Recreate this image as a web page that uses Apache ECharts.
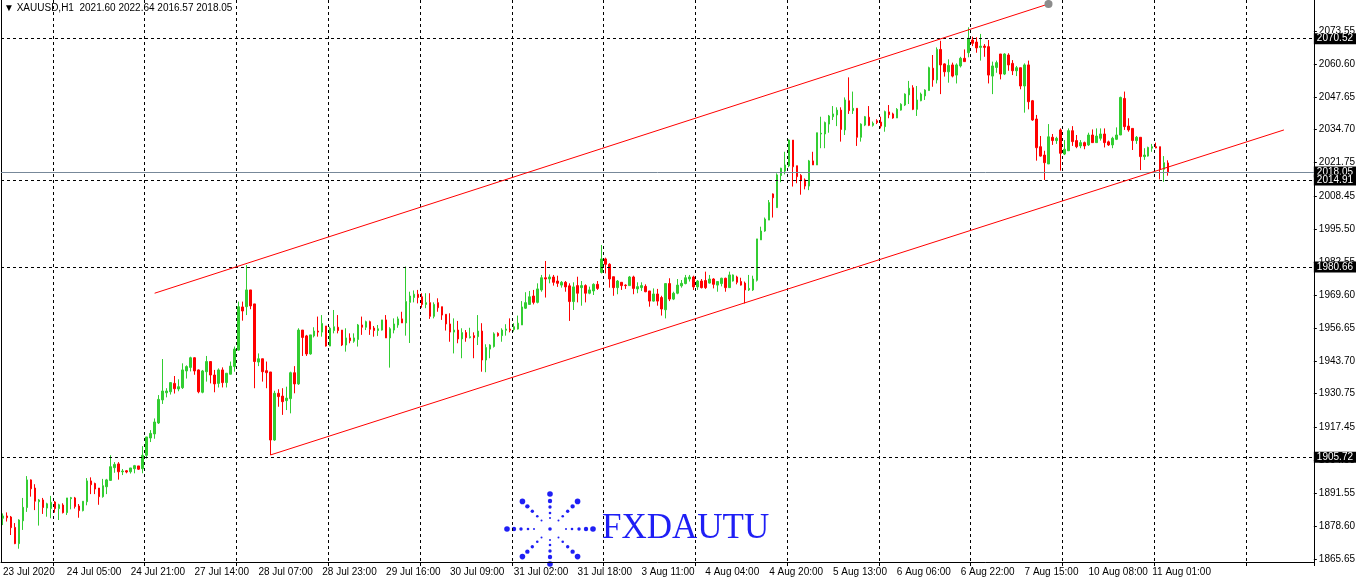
<!DOCTYPE html>
<html><head><meta charset="utf-8">
<script src="https://cdn.jsdelivr.net/npm/echarts@6/dist/echarts.min.js"></script>
<style>html,body{margin:0;padding:0;background:#fff;overflow:hidden}#c{width:1358px;height:581px}</style>
</head><body><div id="c"></div>
<script>
// ---- data (XAUUSD H1) ----
const opens = [1881.7,1882.6,1882.2,1878.1,1871.7,1880.7,1885.9,1896.8,1893.6,1888.2,1888.9,1885.7,1885.5,1888.1,1885.5,1886.9,1883.9,1889.4,1889.7,1886.5,1884.7,1888.2,1896.4,1895.4,1893.6,1890.2,1894.1,1896.6,1901.6,1903.1,1900.0,1900.4,1900.0,1901.2,1902.3,1901.2,1906.5,1913.3,1914.9,1919.2,1928.3,1931.1,1931.5,1934.8,1932.6,1933.1,1939.7,1941.1,1944.9,1940.1,1931.3,1939.4,1943.4,1938.1,1934.8,1940.1,1935.1,1938.4,1941.4,1947.9,1964.9,1965.0,1971.6,1966.1,1943.2,1944.5,1939.8,1939.3,1912.5,1930.9,1929.8,1928.0,1928.8,1939.0,1934.6,1955.8,1953.5,1946.4,1953.5,1955.4,1955.0,1957.4,1949.5,1955.6,1956.9,1955.8,1949.9,1952.7,1951.4,1952.1,1957.8,1956.9,1959.1,1956.6,1955.6,1955.8,1959.8,1952.7,1955.8,1957.8,1960.2,1958.6,1966.7,1968.6,1969.9,1968.9,1965.9,1966.6,1961.2,1966.6,1965.0,1962.0,1958.2,1955.0,1955.8,1952.3,1954.8,1952.8,1953.6,1953.2,1955.4,1944.0,1948.3,1949.3,1954.5,1953.6,1955.7,1956.2,1956.0,1956.2,1957.8,1964.4,1965.9,1969.2,1966.7,1971.6,1976.4,1975.9,1976.7,1975.1,1973.5,1974.6,1973.2,1967.0,1973.3,1972.5,1973.3,1970.3,1971.2,1973.8,1978.5,1983.8,1981.7,1976.8,1972.5,1974.6,1973.5,1973.3,1976.7,1972.0,1972.5,1973.0,1971.2,1967.2,1970.0,1968.6,1963.8,1974.1,1968.0,1970.3,1973.2,1974.1,1975.9,1976.7,1972.8,1975.1,1975.3,1974.3,1975.9,1973.5,1974.1,1976.2,1972.5,1975.1,1976.7,1974.9,1974.3,1971.6,1971.6,1975.4,1991.3,1994.8,1999.1,2009.4,2004.0,2016.6,2018.4,2020.4,2030.6,2020.5,2016.7,2014.9,2012.5,2022.4,2020.8,2033.0,2033.0,2036.9,2039.8,2040.5,2042.4,2034.6,2046.1,2042.2,2043.1,2031.7,2036.5,2039.6,2036.4,2038.2,2037.7,2035.9,2041.7,2040.9,2039.3,2042.4,2044.4,2048.4,2051.2,2042.7,2046.1,2048.0,2050.1,2058.9,2054.3,2066.3,2060.6,2057.5,2060.2,2056.2,2059.8,2062.8,2065.0,2070.0,2069.2,2067.1,2067.6,2067.4,2055.8,2059.2,2064.5,2056.6,2064.1,2060.8,2057.9,2059.1,2051.9,2060.2,2046.1,2038.9,2028.0,2024.7,2021.2,2031.7,2030.4,2034.6,2025.1,2026.4,2034.3,2030.4,2028.3,2029.6,2028.7,2032.6,2029.6,2031.3,2033.0,2029.9,2028.7,2030.9,2032.6,2047.0,2036.1,2035.2,2030.4,2031.7,2024.1,2024.3,2027.4,2028.0,2028.0,2019.1,2021.60];
const highs = [1883.6,1884.0,1882.6,1879.8,1881.3,1889.7,1898.3,1897.0,1895.1,1889.3,1889.7,1887.8,1890.5,1888.5,1887.4,1887.6,1889.7,1890.1,1890.1,1887.3,1888.4,1897.5,1897.8,1895.7,1893.6,1897.2,1897.2,1906.5,1903.8,1903.8,1901.1,1900.7,1901.5,1902.7,1902.3,1910.1,1913.7,1916.4,1921.0,1930.2,1944.4,1932.9,1935.3,1937.7,1936.4,1942.7,1941.9,1945.3,1945.1,1940.3,1940.1,1945.6,1943.4,1940.1,1940.7,1941.1,1938.8,1943.4,1949.3,1967.0,1967.0,1981.4,1971.6,1966.1,1946.6,1944.5,1943.4,1939.3,1931.9,1932.5,1932.9,1933.5,1939.4,1941.6,1956.5,1955.8,1953.9,1953.9,1956.9,1961.1,1961.7,1957.4,1957.1,1963.7,1961.7,1955.8,1956.5,1954.5,1954.5,1958.2,1961.1,1959.5,1959.5,1957.4,1957.8,1959.8,1961.7,1956.9,1960.4,1961.1,1963.0,1980.8,1970.9,1971.4,1971.6,1970.3,1970.3,1970.3,1966.7,1968.3,1965.0,1962.0,1962.4,1960.4,1959.4,1956.5,1955.8,1956.7,1954.9,1961.7,1958.5,1950.2,1950.2,1954.9,1954.9,1956.5,1958.1,1960.4,1958.5,1961.5,1967.2,1970.7,1971.2,1971.6,1974.2,1977.5,1983.0,1977.7,1977.5,1977.2,1975.1,1975.1,1974.2,1974.6,1976.8,1975.1,1973.8,1972.9,1974.2,1975.1,1989.3,1984.3,1982.1,1976.8,1975.5,1974.6,1973.8,1977.1,1977.2,1974.6,1974.6,1973.8,1971.2,1972.2,1972.0,1969.3,1974.3,1976.2,1970.9,1975.9,1975.5,1977.5,1977.5,1977.2,1975.5,1975.9,1978.8,1977.5,1976.2,1975.1,1976.4,1976.4,1978.8,1977.7,1977.2,1976.4,1974.9,1977.5,1977.2,1991.7,1996.5,2000.1,2007.0,2009.6,2017.5,2019.7,2026.0,2030.9,2030.6,2020.5,2017.2,2015.5,2022.8,2026.0,2033.5,2039.8,2037.9,2040.5,2044.0,2043.5,2043.5,2047.4,2055.3,2049.7,2043.1,2037.2,2040.1,2044.0,2037.9,2038.8,2039.8,2042.2,2044.4,2041.4,2043.2,2045.1,2049.0,2053.9,2052.2,2051.9,2049.3,2050.6,2059.5,2064.1,2067.1,2069.7,2060.8,2062.4,2061.1,2060.8,2063.4,2066.3,2075.0,2071.3,2071.1,2072.4,2068.4,2070.0,2061.5,2061.9,2064.5,2064.8,2064.8,2062.1,2059.8,2059.1,2060.8,2061.9,2046.4,2040.5,2032.2,2026.4,2036.9,2033.0,2031.9,2035.2,2030.6,2035.2,2036.1,2032.6,2030.6,2030.0,2033.5,2034.8,2035.2,2035.2,2035.2,2030.4,2031.9,2035.6,2047.7,2049.7,2039.2,2035.2,2032.2,2031.7,2027.4,2028.0,2029.1,2029.6,2028.0,2024.3,2022.64];
const lows = [1879.0,1880.4,1875.1,1871.5,1869.7,1877.1,1884.2,1890.2,1884.9,1878.8,1883.4,1882.3,1881.7,1883.9,1881.0,1883.6,1883.0,1885.2,1885.5,1881.9,1884.4,1886.8,1891.2,1891.2,1887.0,1889.8,1891.2,1896.5,1899.6,1896.9,1898.7,1899.4,1899.3,1899.4,1900.7,1899.4,1905.2,1911.7,1913.0,1918.8,1926.7,1929.3,1930.4,1930.8,1931.7,1932.6,1936.7,1939.5,1938.2,1930.9,1930.9,1935.5,1934.8,1931.3,1933.2,1933.2,1933.2,1938.4,1939.4,1947.7,1959.5,1961.7,1964.0,1932.9,1941.6,1935.5,1932.9,1906.6,1912.2,1925.6,1922.4,1924.3,1923.0,1930.9,1934.2,1945.6,1945.6,1946.1,1952.9,1953.2,1953.2,1949.3,1949.5,1954.5,1954.5,1949.5,1947.3,1950.6,1950.8,1949.3,1953.9,1955.8,1953.9,1953.2,1953.5,1955.6,1952.7,1941.0,1954.5,1956.7,1958.6,1953.6,1950.7,1966.7,1966.3,1964.6,1964.4,1960.2,1960.4,1963.0,1959.8,1955.6,1951.2,1946.6,1950.6,1944.7,1951.2,1952.5,1944.7,1949.9,1939.4,1939.2,1944.7,1948.9,1953.2,1951.2,1953.6,1954.9,1955.2,1956.0,1957.8,1964.1,1965.9,1965.9,1966.3,1970.9,1968.6,1974.2,1973.3,1972.8,1972.5,1970.9,1959.4,1963.7,1966.7,1965.4,1966.7,1969.9,1969.6,1971.6,1978.1,1978.1,1972.5,1969.3,1969.9,1971.6,1972.0,1973.3,1969.9,1970.3,1971.2,1970.7,1965.0,1967.0,1965.4,1961.5,1960.4,1967.2,1967.6,1969.9,1972.5,1973.8,1974.9,1971.6,1971.6,1972.2,1972.0,1974.1,1972.2,1970.9,1973.0,1970.9,1972.5,1974.9,1973.8,1973.3,1966.3,1971.2,1971.2,1974.9,1991.3,1994.5,1999.1,2000.1,2004.0,2014.0,2017.1,2019.9,2012.3,2013.6,2009.1,2011.2,2010.9,2020.8,2020.8,2027.4,2027.4,2033.5,2038.5,2036.1,2030.0,2032.6,2040.9,2040.9,2028.3,2030.0,2036.1,2036.1,2035.9,2036.9,2035.2,2033.9,2039.2,2039.0,2039.3,2042.2,2044.0,2044.8,2042.4,2040.1,2045.9,2046.4,2050.1,2051.6,2052.9,2048.7,2055.6,2053.2,2055.3,2052.9,2059.2,2061.5,2063.2,2067.6,2065.0,2061.9,2063.4,2052.9,2048.7,2057.1,2054.5,2056.2,2057.9,2056.2,2055.8,2050.6,2041.4,2042.7,2038.2,2022.5,2024.1,2014.9,2021.2,2028.7,2029.1,2018.6,2024.7,2026.4,2028.3,2027.4,2027.4,2027.0,2028.3,2029.6,2029.6,2030.4,2027.7,2028.3,2027.4,2030.6,2032.6,2034.6,2033.9,2026.7,2029.1,2018.8,2022.8,2024.1,2026.0,2027.4,2015.1,2014.2,2016.57];
const closes = [1882.6,1881.9,1878.0,1871.7,1881.0,1886.0,1896.8,1893.3,1888.4,1888.9,1885.9,1887.4,1888.0,1885.5,1887.0,1883.9,1889.7,1889.8,1886.3,1884.7,1888.4,1896.4,1894.9,1893.2,1890.2,1894.5,1896.8,1902.0,1902.9,1900.0,1900.3,1899.9,1901.5,1902.4,1901.0,1906.5,1913.7,1915.1,1919.6,1928.5,1931.8,1931.8,1935.1,1932.7,1933.5,1940.1,1941.4,1944.9,1939.7,1931.5,1939.7,1943.4,1938.1,1934.6,1940.1,1935.1,1938.8,1941.6,1948.3,1965.0,1963.3,1971.6,1965.3,1943.4,1944.5,1939.4,1939.0,1912.5,1930.9,1929.6,1927.6,1929.0,1939.0,1934.6,1955.8,1952.9,1946.4,1953.9,1955.4,1955.0,1958.4,1949.5,1956.5,1957.1,1955.6,1949.9,1952.7,1951.6,1952.7,1957.8,1956.9,1959.1,1956.1,1955.6,1956.3,1959.8,1952.7,1956.3,1958.2,1960.2,1958.6,1967.0,1969.2,1969.9,1968.6,1965.9,1966.6,1961.2,1965.9,1964.6,1961.7,1958.2,1955.0,1955.8,1952.3,1954.8,1952.8,1953.2,1952.8,1955.4,1944.0,1948.9,1949.9,1954.3,1953.6,1955.8,1956.2,1955.7,1957.1,1958.5,1964.9,1966.6,1968.9,1966.7,1972.0,1976.4,1975.9,1976.7,1974.6,1974.2,1974.6,1972.8,1967.0,1972.8,1970.3,1973.3,1970.3,1971.6,1973.8,1972.2,1983.8,1981.7,1975.9,1972.5,1975.1,1973.3,1973.3,1976.7,1972.2,1972.9,1973.3,1970.9,1967.2,1970.0,1967.2,1964.1,1974.1,1968.0,1970.3,1973.5,1974.2,1976.4,1976.7,1972.8,1975.1,1972.5,1972.5,1975.9,1973.8,1974.9,1976.2,1972.5,1977.5,1977.5,1974.6,1973.5,1971.6,1972.2,1975.9,1991.7,1994.8,1999.5,2006.0,2007.9,2016.9,2019.5,2020.8,2030.6,2020.1,2016.2,2014.6,2012.5,2022.4,2020.8,2033.5,2033.3,2037.5,2040.1,2040.9,2042.4,2034.8,2046.4,2042.2,2043.1,2031.7,2036.9,2039.8,2036.4,2037.2,2037.5,2036.1,2041.8,2040.6,2039.3,2042.7,2044.7,2048.7,2051.0,2042.7,2046.4,2048.7,2050.3,2059.1,2054.3,2066.3,2060.2,2057.5,2060.0,2055.8,2060.2,2062.8,2061.5,2070.7,2068.7,2066.9,2067.6,2067.1,2056.2,2059.8,2061.1,2056.6,2064.5,2060.2,2057.9,2059.1,2051.9,2060.2,2045.7,2038.5,2027.6,2024.3,2021.7,2031.9,2030.4,2031.3,2025.4,2027.0,2034.3,2030.0,2028.0,2029.6,2028.3,2032.6,2029.6,2032.2,2033.0,2029.6,2028.7,2031.3,2032.6,2047.4,2035.9,2034.6,2030.4,2031.7,2024.1,2024.7,2027.7,2028.0,2027.5,2019.1,2021.7,2018.05];
const timeLabels = ['23 Jul 2020','24 Jul 05:00','24 Jul 21:00','27 Jul 14:00','28 Jul 07:00','28 Jul 23:00','29 Jul 16:00','30 Jul 09:00','31 Jul 02:00','31 Jul 18:00','3 Aug 11:00','4 Aug 04:00','4 Aug 20:00','5 Aug 13:00','6 Aug 06:00','6 Aug 22:00','7 Aug 15:00','10 Aug 08:00','11 Aug 01:00'];
const yTickLabels = [1865.65,1878.60,1891.55,1904.50,1917.45,1930.75,1943.70,1956.65,1969.60,1982.55,1995.50,2008.45,2021.75,2034.70,2047.65,2060.60,2073.55];
const levelLines = [2070.52,2014.91,1980.66,1905.72];
const bidPrice = 2018.05;
const upperChannel = [[38,1970.3],[262,2084.2]];
const lowerChannel = [[67,1906.6],[321,2034.6]];
const titleText = '\u25BC XAUUSD,H1  2021.60 2022.64 2016.57 2018.05';
const slotCount = 329;     // chart slots incl. empty right shift
const labelEvery = 16;     // bars between time labels
const dayBars = 23;        // bars per trading day (grid)
const firstDayBreak = 13;

// ---- build ----
const FONT = 'Liberation Sans';
const cats = [];
for (let i = 0; i < slotCount; i++) cats.push(String(i));
const candles = opens.map((o, i) => [o, closes[i], lows[i], highs[i]]);
const gridFn = (i) => i >= firstDayBreak && (i - firstDayBreak) % dayBars === 0;

const boxLabel = {
  show: true, position: 'end', distance: 0,
  formatter: p => Number(p.value).toFixed(2),
  color: '#fff', backgroundColor: '#000', fontFamily: FONT, fontSize: 10,
  padding: [1, 3, 0, 3], lineHeight: 10
};
const mlData = [];
mlData.push({ yAxis: bidPrice, lineStyle: { color: '#778899', type: 'solid', width: 1 }, label: boxLabel });
levelLines.forEach(v => mlData.push({ yAxis: v, lineStyle: { color: '#000', type: [3, 3], width: 1 }, label: boxLabel }));
[upperChannel, lowerChannel].forEach(ch => mlData.push([
  { coord: ch[0], lineStyle: { color: '#ff0000', type: 'solid', width: 1 }, label: { show: false } },
  { coord: ch[1] }
]));

// logo dots (decoration)
const logoCx = 550, logoCy = 529;
const logoEls = [];
const armDist = { h: [16, 22, 29, 36, 43], v: [11, 16, 22, 28, 35], d: [12, 18, 25, 32, 39] };
const dotR = [1.0, 1.3, 1.7, 2.2, 2.8];
for (let k = 0; k < 8; k++) {
  const ang = k * Math.PI / 4;
  const key = (k % 4 === 0) ? 'h' : (k % 4 === 2 ? 'v' : 'd');
  armDist[key].forEach((d, j) => {
    logoEls.push({ type: 'circle', shape: { cx: logoCx + d * Math.cos(ang), cy: logoCy - d * Math.sin(ang), r: dotR[j] }, style: { fill: '#1f1ff5' }, silent: true });
  });
}
logoEls.push({ type: 'circle', shape: { cx: logoCx, cy: logoCy, r: 1.8 }, style: { fill: '#1f1ff5' }, silent: true });
logoEls.push({ type: 'text', x: 602, y: 511, style: { text: 'FXDAUTU', font: '35px "Liberation Serif"', fill: '#1f1ff5' }, silent: true });
logoEls.push({ type: 'text', x: 4, y: 3, style: { text: titleText, font: '10px "' + FONT + '"', fill: '#000' }, silent: true, z: 100 });

const chart = echarts.init(document.getElementById('c'), null, { renderer: 'canvas' });
chart.setOption({
  animation: false,
  backgroundColor: '#fff',
  grid: { left: 0, top: 0, width: 1316, height: 562, containLabel: false },
  xAxis: {
    type: 'category', data: cats, boundaryGap: true,
    axisLine: { show: true, lineStyle: { color: '#000', width: 1 } },
    axisTick: { show: true, interval: gridFn, length: 4, lineStyle: { color: '#000' } },
    splitLine: { show: true, interval: gridFn, lineStyle: { color: '#000', type: [3, 3], width: 1 } },
    axisLabel: {
      show: true, interval: (i) => i % labelEvery === 0 && i / labelEvery < timeLabels.length,
      formatter: (v, i) => timeLabels[Math.round(i / labelEvery)] || '',
      align: 'left', margin: 5, color: '#000', fontFamily: FONT, fontSize: 10
    }
  },
  yAxis: [{
    type: 'value', position: 'right', min: 1864.47, max: 2085.76, scale: true,
    axisLine: { show: true, lineStyle: { color: '#000', width: 1 } },
    axisTick: { show: true, customValues: yTickLabels, length: 3, lineStyle: { color: '#000' } },
    axisLabel: { show: true, customValues: yTickLabels, formatter: v => Number(v).toFixed(2), margin: 5, color: '#000', fontFamily: FONT, fontSize: 10 },
    splitLine: { show: false }
  }, {
    type: 'value', position: 'left', min: 1864.47, max: 2085.76,
    axisLine: { show: true, onZero: false, lineStyle: { color: '#000', width: 1 } },
    axisTick: { show: false }, axisLabel: { show: false }, splitLine: { show: false }
  }],
  graphic: logoEls,
  series: [{
    type: 'candlestick', data: candles, barWidth: 2, yAxisIndex: 0,
    itemStyle: { color: '#32cd32', color0: '#ff0000', borderColor: '#32cd32', borderColor0: '#ff0000', borderWidth: 1 },
    emphasis: { disabled: true },
    markLine: { silent: true, symbol: ['none', 'none'], animation: false, data: mlData },
    markPoint: { silent: true, animation: false, data: [{ coord: upperChannel[1], symbol: 'circle', symbolSize: 8, itemStyle: { color: '#8c8c8c' }, label: { show: false } }] }
  }]
});
</script>
</body></html>
